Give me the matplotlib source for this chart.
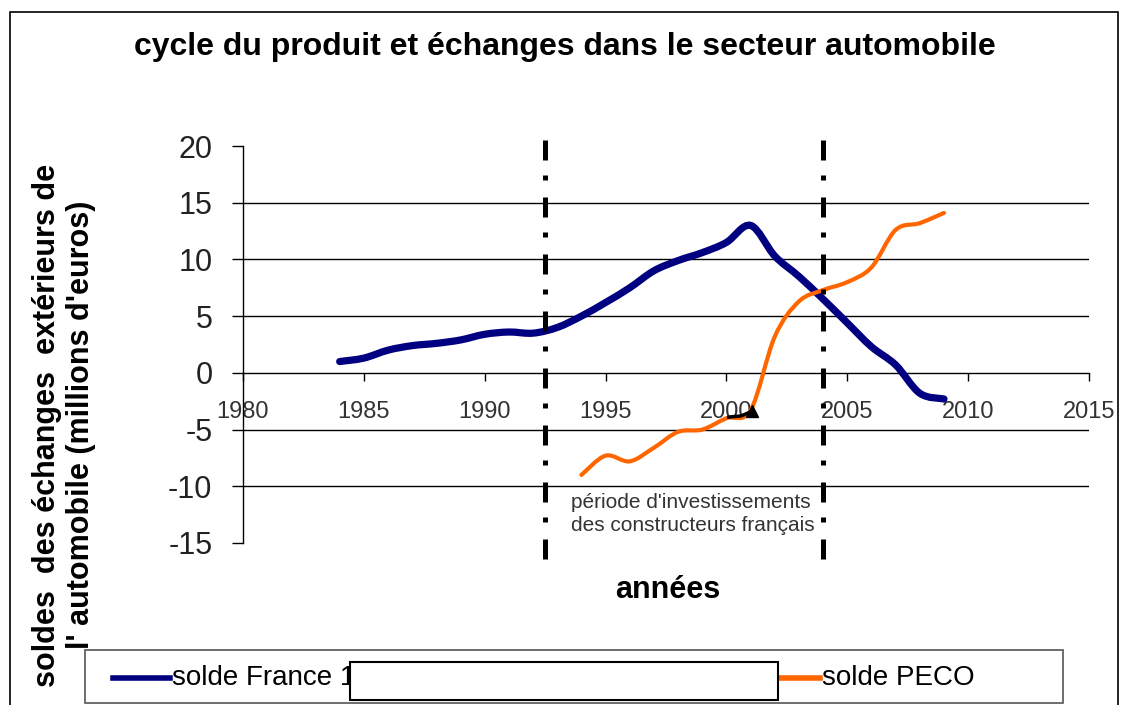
import matplotlib
matplotlib.use("Agg")
import matplotlib.pyplot as plt
from matplotlib.path import Path
from matplotlib.patches import PathPatch, Rectangle
from matplotlib.lines import Line2D

plt.rcParams['font.family'] = ['Liberation Sans', 'DejaVu Sans']
plt.rcParams['axes.unicode_minus'] = False

# donnees
annees_france = [1984, 1985, 1986, 1987, 1988, 1989, 1990, 1991, 1992, 1993, 1994,
                 1995, 1996, 1997, 1998, 1999, 2000, 2001, 2002, 2003, 2004, 2005,
                 2006, 2007, 2008, 2009]
solde_france = [1.0, 1.3, 2.0, 2.4, 2.6, 2.9, 3.4, 3.6, 3.5, 4.0, 5.0,
                6.2, 7.5, 9.0, 9.9, 10.6, 11.5, 13.0, 10.3, 8.5, 6.5, 4.4,
                2.3, 0.7, -1.8, -2.3]
annees_peco = [1994, 1995, 1996, 1997, 1998, 1999, 2000, 2001, 2002, 2003,
               2004, 2005, 2006, 2007, 2008, 2009]
solde_peco = [-9.0, -7.3, -7.8, -6.6, -5.2, -5.0, -4.0, -3.3, 3.2, 6.3,
              7.3, 8.0, 9.3, 12.6, 13.2, 14.1]
annees_3 = [2000.1, 2000.6, 2001.05]
serie_3 = [-3.9, -3.8, -3.4]
periode = [1992.5, 2004.0]
yticks = [-15, -10, -5, 0, 5, 10, 15, 20]
xticks = [1980, 1985, 1990, 1995, 2000, 2005, 2010, 2015]


def courbe_lissee(xs, ys):
    # courbe de Bezier (Catmull-Rom) comme le lissage d'Excel
    verts = [(xs[0], ys[0])]
    codes = [Path.MOVETO]
    n = len(xs)
    for i in range(n - 1):
        x0, y0 = (xs[i - 1], ys[i - 1]) if i > 0 else (xs[i], ys[i])
        x1, y1 = xs[i], ys[i]
        x2, y2 = xs[i + 1], ys[i + 1]
        x3, y3 = (xs[i + 2], ys[i + 2]) if i + 2 < n else (x2, y2)
        c1 = (x1 + (x2 - x0) / 6.0, y1 + (y2 - y0) / 6.0)
        c2 = (x2 - (x3 - x1) / 6.0, y2 - (y3 - y1) / 6.0)
        verts += [c1, c2, (x2, y2)]
        codes += [Path.CURVE4] * 3
    return Path(verts, codes)


fig = plt.figure(figsize=(11.26, 7.05), dpi=100)
fig.patch.set_facecolor('white')

# cadre exterieur
fig.add_artist(Rectangle((10 / 1126, -0.01), 1108 / 1126, 1 - 12 / 705 + 0.01,
                         transform=fig.transFigure, fill=False, edgecolor='black',
                         linewidth=1.2))

ax = fig.add_axes([243 / 1126, 1 - 543 / 705, (1089 - 243) / 1126, (543 - 146) / 705])
ax.set_xlim(1980, 2015)
ax.set_ylim(-15, 20)

ax.spines['top'].set_visible(False)
ax.spines['right'].set_visible(False)
ax.spines['bottom'].set_position(('data', 0))
ax.spines['left'].set_linewidth(1)
ax.spines['bottom'].set_linewidth(1)

ax.set_yticks(yticks)
ax.set_xticks(xticks)
ax.tick_params(axis='y', direction='out', length=8, width=1, pad=14, labelsize=22,
               labelcolor='#222222')
ax.tick_params(axis='x', direction='out', length=6, width=1, pad=14, labelsize=17,
               labelcolor='#333333')

for v in yticks:
    if -15 < v < 20 and v != 0:
        ax.axhline(v, color='black', linewidth=1, zorder=1)

ax.add_patch(PathPatch(courbe_lissee(annees_france, solde_france), fill=False,
                       edgecolor='#000080', linewidth=5.2, capstyle='round', zorder=3))
ax.add_patch(PathPatch(courbe_lissee(annees_peco, solde_peco), fill=False,
                       edgecolor='#FF6600', linewidth=3, capstyle='round', zorder=4))
ax.plot(annees_3, serie_3, color='black', linewidth=2.5, zorder=5)
ax.plot(annees_3[-1:], serie_3[-1:], marker='^', color='black', markersize=8, zorder=5)

for xv in periode:
    ax.plot([xv, xv], [20.5, -16.4], color='black', linewidth=3.6,
            linestyle=(0, (4.0, 3.0, 1.0, 3.4)), clip_on=False, zorder=6)

ax.text(1993.55, -10.6, "période d'investissements\ndes constructeurs français",
        fontsize=15, color='#333333', va='top', ha='left', linespacing=1.25)

fig.text(565 / 1126, 1 - 47 / 705, "cycle du produit et échanges dans le secteur automobile",
         ha='center', va='center', fontsize=23, fontweight='bold')
fig.text(668 / 1126, 1 - 590 / 705, "années", ha='center', va='center',
         fontsize=22, fontweight='bold')
fig.text(64 / 1126, 1 - 425 / 705,
         "soldes  des échanges  extérieurs de\nl' automobile (millions d'euros)",
         rotation=90, ha='center', va='center', fontsize=22, fontweight='bold',
         linespacing=1.2)

# legende
fig.add_artist(Rectangle((85 / 1126, 1 - 703 / 705), (1063 - 85) / 1126, 53 / 705,
                         transform=fig.transFigure, facecolor='white',
                         edgecolor='#555555', linewidth=1.2))
yl = 1 - 678 / 705
fig.add_artist(Line2D([113 / 1126, 170 / 1126], [yl, yl], transform=fig.transFigure,
                      color='#000080', linewidth=4))
fig.text(172 / 1126, yl, "solde France 1", va='center', ha='left', fontsize=20)
fig.add_artist(Line2D([780 / 1126, 820 / 1126], [yl, yl], transform=fig.transFigure,
                      color='#FF6600', linewidth=4))
fig.text(822 / 1126, yl, "solde PECO", va='center', ha='left', fontsize=20)
fig.add_artist(Rectangle((350 / 1126, 1 - 700 / 705), (778 - 350) / 1126, 38 / 705,
                         transform=fig.transFigure, facecolor='white',
                         edgecolor='black', linewidth=1.5, zorder=10))

fig.savefig('out.png', dpi=100)
